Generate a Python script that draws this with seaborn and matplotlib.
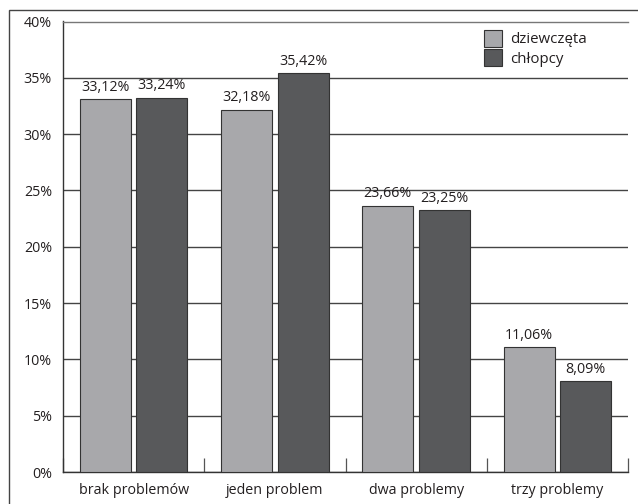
import matplotlib
matplotlib.use("Agg")
import matplotlib.pyplot as plt
import seaborn as sns
import pandas as pd
from matplotlib.patches import Rectangle, Patch
from matplotlib.ticker import FixedLocator

categories = ["brak problemów", "jeden problem", "dwa problemy", "trzy problemy"]
series = ["dziewczęta", "chłopcy"]
girls = [33.12, 32.18, 23.66, 11.06]
boys = [33.24, 35.42, 23.25, 8.09]
y_ticks = [0, 5, 10, 15, 20, 25, 30, 35, 40]

colors = {"dziewczęta": "#a7a8ab", "chłopcy": "#58595b"}

df = pd.DataFrame({
    "kategoria": categories * 2,
    "płeć": [series[0]] * 4 + [series[1]] * 4,
    "wartość": girls + boys,
})

sns.set_style("white")
plt.rcParams["font.family"] = ["Open Sans", "DejaVu Sans"]

fig = plt.figure(figsize=(6.38, 5.04), dpi=100)
ax = fig.add_axes([63 / 638, 1 - 472 / 504, (628 - 63) / 638, (472 - 21.5) / 504])

sns.barplot(data=df, x="kategoria", y="wartość", hue="płeć", palette=colors,
            width=0.8, gap=0.1, edgecolor="#333333", linewidth=0.8,
            ax=ax, legend=False, zorder=3)

ax.set_ylim(0, 40)
ax.set_xlim(-0.5, 3.5)
ax.set_yticks(y_ticks)
ax.set_yticklabels([f"{t}%" for t in y_ticks], fontsize=10.3, color="#231f20")
ax.set_xticks(range(len(categories)))
ax.set_xticklabels(categories, fontsize=10.3, color="#231f20")
ax.tick_params(axis="x", which="major", length=0, pad=8)
ax.tick_params(axis="y", length=0, pad=8)
ax.xaxis.set_minor_locator(FixedLocator([-0.5, 0.5, 1.5, 2.5, 3.5]))
ax.tick_params(axis="x", which="minor", bottom=True, direction="in", length=10,
               width=0.9, color="#555555")
ax.set_xlabel("")
ax.set_ylabel("")

ax.yaxis.grid(True, color="#444444", linewidth=1.0, zorder=0)
ax.set_axisbelow(True)
ax.spines["right"].set_visible(False)
ax.spines["top"].set_color("#777777")
ax.spines["top"].set_linewidth(1.0)
for s in ["left", "bottom"]:
    ax.spines[s].set_color("#333333")
    ax.spines[s].set_linewidth(1.0)

for cont in ax.containers:
    ax.bar_label(cont, labels=[f"{v:.2f}%".replace(".", ",") for v in cont.datavalues],
                 padding=3, fontsize=10.3, color="#231f20")

handles = [Patch(facecolor=colors[s], edgecolor="#333333", linewidth=0.8) for s in series]
ax.legend(handles, series, loc="upper left", bbox_to_anchor=(0.726, 1.005), frameon=False,
          fontsize=10.8, handlelength=1.25, handleheight=1.35, handletextpad=0.5,
          labelspacing=0.15, labelcolor="#231f20", borderaxespad=0.3)

fig.patches.append(Rectangle((9 / 638, -0.05), 1.1, 1 - 10 / 504 + 0.05,
                             transform=fig.transFigure, fill=False,
                             edgecolor="#444444", linewidth=1.0))

fig.savefig("out.png", dpi=100)
